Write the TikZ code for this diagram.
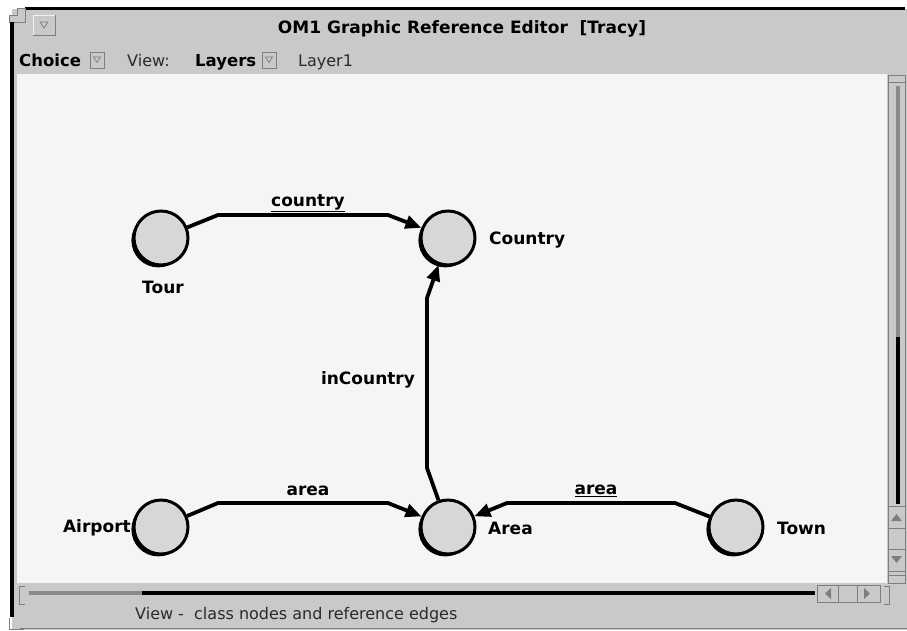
\documentclass[tikz,border=0pt]{standalone}
\usepackage{fontspec}
\setmainfont{DejaVu Sans}
\usetikzlibrary{arrows.meta,shadows}
\definecolor{chrome}{HTML}{C9C9C9}
\definecolor{canvasbg}{HTML}{F5F5F5}
\definecolor{nodefill}{HTML}{D7D7D7}
\definecolor{trough}{HTML}{8A8A8A}
\definecolor{bevlight}{HTML}{F2F2F2}
\definecolor{bevdark}{HTML}{7E7E7E}
\definecolor{softtext}{HTML}{2A2A2A}

\begin{document}
\begin{tikzpicture}[x=1pt,y=-1pt,
  classnode/.style={circle, draw=black, line width=3pt, fill=nodefill,
    minimum size=54pt, inner sep=0pt,
    drop shadow={shadow xshift=-2.6pt, shadow yshift=-2.4pt, fill=black, opacity=1}},
  nodelabel/.style={font=\bfseries\fontsize{17}{20}\selectfont, inner sep=0pt},
  edgelabel/.style={font=\bfseries\fontsize{17}{20}\selectfont, inner sep=0pt},
  uitext/.style={font=\fontsize{16}{19}\selectfont, text=softtext, inner sep=0pt, anchor=base west},
  uibold/.style={font=\bfseries\fontsize{16.5}{19}\selectfont, inner sep=0pt, anchor=base west},
  refedge/.style={line width=3.8pt, -{Triangle[length=16pt,width=13pt]}},
  button/.style={fill=chrome, draw=bevdark, line width=0.8pt},
]
\useasboundingbox (0,0) rectangle (907,630);

% ---------- window chrome ----------
\fill[white] (0,0) rectangle (907,630);
\fill[chrome] (12,9) rectangle (907,630);
\fill[black] (25,6.5) rectangle (905,10);
% top-left corner piece
\filldraw[fill=chrome, draw=bevdark, line width=0.8pt]
  (9,22) -- (9,15) -- (17,15) -- (17,8) -- (25,8) -- (25,22) -- cycle;
% left frame edge
\fill[black] (9.5,22) rectangle (13.5,617);
% bottom-left corner piece
\draw[bevdark, line width=0.8pt] (9,618) -- (9,629) -- (24,629);
\draw[bevdark, line width=0.8pt] (20,628) -- (907,628);

% title bar
\draw[button] (33,15) rectangle (55,35);
\draw[bevlight, line width=1pt] (33.5,34.5) -- (33.5,15.5) -- (54.5,15.5);
\draw[bevdark, line width=0.7pt] (40,22) -- (48,22) -- (44,28) -- cycle;
\node[font=\bfseries\fontsize{17}{20}\selectfont, inner sep=0pt] (title) at (462,29)
  {OM1 Graphic Reference Editor~~[Tracy]};

% toolbar
\node[uibold] (choice) at (19,66) {Choice};
\draw[button] (90,52) rectangle (104,68);
\draw[bevdark, line width=0.7pt] (93.5,57) -- (100.5,57) -- (97,62.5) -- cycle;
\node[uitext] (view) at (127,66) {View:};
\node[uibold] (layers) at (195,66) {Layers};
\draw[button] (262,52) rectangle (276,68);
\draw[bevdark, line width=0.7pt] (265.5,57) -- (272.5,57) -- (269,62.5) -- cycle;
\node[uitext] (layer) at (298,66) {Layer1};

% drawing canvas
\fill[canvasbg] (17,74) rectangle (887,583);

% vertical scroll bar
\draw[bevdark, line width=0.8pt] (888,75) rectangle (905,583);
\draw[bevdark, line width=0.8pt] (888,82) -- (905,82);
\draw[trough, line width=3.5pt] (898,86) -- (898,337);
\draw[black, line width=3.5pt] (898,337) -- (898,504);
\draw[button] (888,506) rectangle (905,571);
\draw[bevdark, line width=0.8pt] (888,528) -- (905,528) (888,549) -- (905,549);
\fill[bevdark] (891,521) -- (902,521) -- (896.5,514) -- cycle;
\fill[bevdark] (891,556) -- (902,556) -- (896.5,563) -- cycle;
\draw[bevdark, line width=0.8pt] (888,575) rectangle (905,583);

% horizontal scroll bar
\draw[bevdark, line width=0.8pt] (25,586) -- (19,586) -- (19,604) -- (25,604);
\draw[trough, line width=3.5pt] (29,593) -- (142,593);
\draw[black, line width=3.5pt] (142,593) -- (815,593);
\draw[button] (817,585) rectangle (880,602);
\draw[bevdark, line width=0.8pt] (838,585) -- (838,602) (857,585) -- (857,602);
\fill[bevdark] (825,593.5) -- (831,588) -- (831,599) -- cycle;
\fill[bevdark] (870,593.5) -- (864,588) -- (864,599) -- cycle;
\draw[bevdark, line width=0.8pt] (884,586) -- (889,586) -- (889,604) -- (884,604);

% status line
\node[uitext] (status) at (135,619) {View -~~class nodes and reference edges};

% ---------- class nodes ----------
\node[classnode] (tour)    at (161,238) {};
\node[classnode] (country) at (448,238) {};
\node[classnode] (airport) at (161,527) {};
\node[classnode] (area)    at (448,527) {};
\node[classnode] (town)    at (736,527) {};

\node[nodelabel] (tourlbl)    at (163,287) {Tour};
\node[nodelabel, anchor=west] (countrylbl) at (489,240) {Country};
\node[nodelabel, anchor=east] (airportlbl) at (131,528) {Airport};
\node[nodelabel, anchor=west] (arealbl)    at (488,528) {Area};
\node[nodelabel, anchor=west] (townlbl)    at (777,528) {Town};

% ---------- reference edges ----------
\draw[refedge] (tour) -- (218,215) -- (388,215) -- (country);
\draw[refedge] (area) -- (427,468) -- (427,298) -- (country);
\draw[refedge] (airport) -- (218,503) -- (388,503) -- (area);
\draw[refedge] (town) -- (675,503) -- (507,503) -- (area);

\node[edgelabel] (lblcountry)   at (308,203) {\underline{country}};
\node[edgelabel] (lblincountry) at (368,380) {inCountry};
\node[edgelabel] (lblarea1)     at (308,491) {area};
\node[edgelabel] (lblarea2)     at (596,491) {\underline{area}};
\end{tikzpicture}
\end{document}
